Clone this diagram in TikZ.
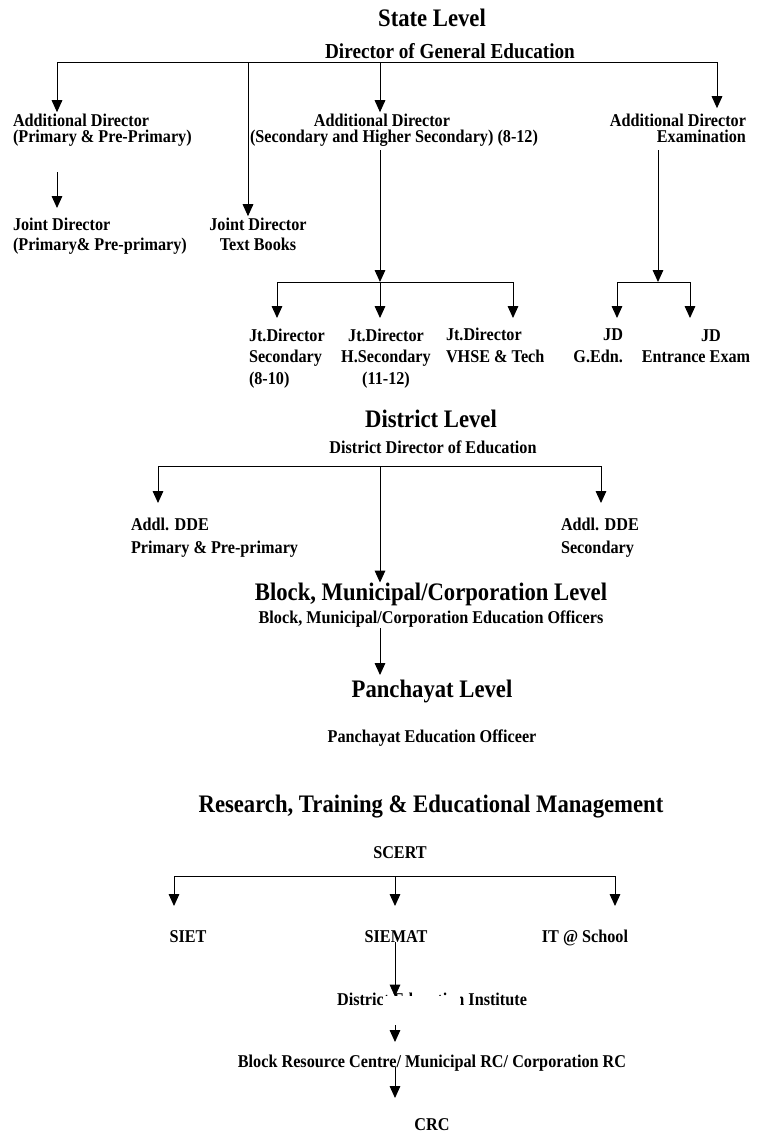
\documentclass[tikz,border=0pt]{standalone}
\usepackage{fontspec}
\setmainfont{Liberation Serif}[FakeStretch=0.9]
\usetikzlibrary{arrows.meta}
\begin{document}
\begin{tikzpicture}[x=0.75pt,y=-0.75pt,
  every node/.style={inner sep=0pt,outer sep=0pt,font=\bfseries\fontsize{13.5pt}{15pt}\selectfont},
  txt/.style={font=\bfseries\fontsize{13.5pt}{#1}\selectfont},
  big/.style={font=\bfseries\fontsize{18.9pt}{21pt}\selectfont},
  mid/.style={font=\bfseries\fontsize{16pt}{18pt}\selectfont},
  conn/.style={line width=0.75pt,black},
  arr/.style={conn,-{Triangle[length=9pt,width=8pt]}}]
\useasboundingbox[fill=white] (0,0) rectangle (762,1136);

% ---------------- State level
\node[big,anchor=base] (state) at (432,26) {State Level};
\node[mid,anchor=base] (dge) at (450,58) {Director of General Education};

% multi-line nodes are anchored at the baseline of their last line
\node[txt=12pt,anchor=base west,align=left] (ad1) at (13,142) {Additional Director\\(Primary \& Pre-Primary)};
\node[anchor=base] (ad2a) at (382,126) {Additional Director};
\node[anchor=base] (ad2b) at (394,142) {(Secondary and Higher Secondary) (8-12)};
\node[txt=12pt,anchor=base east,align=right] (ad3) at (746,142) {Additional Director\\Examination};
\node[txt=15pt,anchor=base west,align=left] (jd1) at (13,250) {Joint Director\\(Primary\& Pre-primary)};
\node[txt=15pt,anchor=base,align=center] (jdtb) at (258,250) {Joint Director\\Text Books};

\coordinate (t1) at (57,62);
\coordinate (t2) at (248,62);
\coordinate (t3) at (380,62);
\coordinate (t4) at (717,62);
\draw[conn] (t1) -- (t4);
\draw[arr] (t1) -- ([yshift=1pt]t1 |- ad1.north);
\draw[arr] (t2) -- ([yshift=1pt]t2 |- jdtb.north);
\draw[arr] (t3) -- ([yshift=1pt]t3 |- ad2a.north);
\draw[arr] (t4) -- ([yshift=4pt]t4 |- ad3.north);

\coordinate (p1) at (57,172);
\coordinate (p2) at (57,208);
\draw[arr] (p1) -- (p2);

% secondary branch
\coordinate (mA) at (380,150);
\coordinate (mB) at (380,282);
\coordinate (mL) at (277,282);
\coordinate (mR) at (513,282);
\draw[arr] (mA) -- (mB);
\draw[conn] (mL) -- (mR);
\draw[arr] (mL) -- ++(0,36);
\draw[arr] (mB) -- ++(0,36);
\draw[arr] (mR) -- ++(0,36);

\node[txt=16pt,anchor=base west,align=left] (jt1) at (249,384) {Jt.Director\\Secondary\\(8-10)};
\node[txt=16pt,anchor=base,align=center] (jt2) at (386,384) {Jt.Director\\H.Secondary\\(11-12)};
\node[txt=16pt,anchor=base west,align=left] (jt3) at (446,362) {Jt.Director\\VHSE \& Tech};

% examination branch
\coordinate (eA) at (658,150);
\coordinate (eB) at (658,282);
\coordinate (eL) at (617,282);
\coordinate (eR) at (690,282);
\draw[arr] (eA) -- (eB);
\draw[conn] (eL) -- (eR);
\draw[arr] (eL) -- ++(0,36);
\draw[arr] (eR) -- ++(0,36);

\node[txt=16pt,anchor=base east,align=right] (jdg) at (623,362) {JD\\G.Edn.};
\node[anchor=base] (jde1) at (711,341) {JD};
\node[anchor=base] (jde2) at (696,362) {Entrance Exam};

% ---------------- District level
\node[big,anchor=base] (dist) at (431,427) {District Level};
\node[anchor=base] (dde) at (433,453) {District Director of Education};
\coordinate (dL) at (158,466);
\coordinate (dM) at (380,466);
\coordinate (dR) at (601,466);
\draw[conn] (dL) -- (dR);
\draw[arr] (dL) -- ++(0,37);
\draw[arr] (dR) -- ++(0,37);
\node[txt=17.25pt,anchor=base west,align=left] (addl1) at (131,553) {Addl. DDE\\Primary \& Pre-primary};
\node[txt=17.25pt,anchor=base west,align=left] (addl2) at (561,553) {Addl. DDE\\Secondary};

% ---------------- Block level
\node[big,anchor=base] (blk) at (431,600) {Block, Municipal/Corporation Level};
\node[anchor=base] (blko) at (431,623) {Block, Municipal/Corporation Education Officers};
\draw[arr] (dM) -- (dM |- blk.north);

\coordinate (bA) at (380,628);
\coordinate (bB) at (380,675);
\draw[arr] (bA) -- (bB);

% ---------------- Panchayat level
\node[big,anchor=base] (pan) at (432,697) {Panchayat Level};
\node[anchor=base] (pano) at (432,742) {Panchayat Education Officeer};

% ---------------- Research, training
\node[big,anchor=base] (rte) at (431,812) {Research, Training \& Educational Management};
\node[anchor=base] (scert) at (400,858) {SCERT};
\coordinate (sL) at (174,876);
\coordinate (sM) at (395,876);
\coordinate (sR) at (615,876);
\draw[conn] (sL) -- (sR);
\draw[arr] (sL) -- ++(0,30);
\draw[arr] (sM) -- ++(0,30);
\draw[arr] (sR) -- ++(0,30);
\node[anchor=base] (siet) at (188,942) {SIET};
\node[anchor=base] (siemat) at (396,942) {SIEMAT};
\node[anchor=base] (its) at (585,942) {IT @ School};

\node[anchor=base] (dei) at (432,1005) {District Education Institute};
\draw[arr] (sM |- siemat.south) -- ([yshift=-3pt]sM |- dei.north);
\fill[white] (383,996) rectangle (460,1024);

\node[anchor=base] (brc) at (432,1067) {Block Resource Centre/ Municipal RC/ Corporation RC};
\coordinate (r1) at (395,1025);
\coordinate (r2) at (395,1042);
\draw[arr] (r1) -- (r2);

\node[anchor=base] (crc) at (432,1130) {CRC};
\coordinate (c1) at (395,1067);
\coordinate (c2) at (395,1098);
\draw[arr] (c1) -- (c2);
\end{tikzpicture}
\end{document}
